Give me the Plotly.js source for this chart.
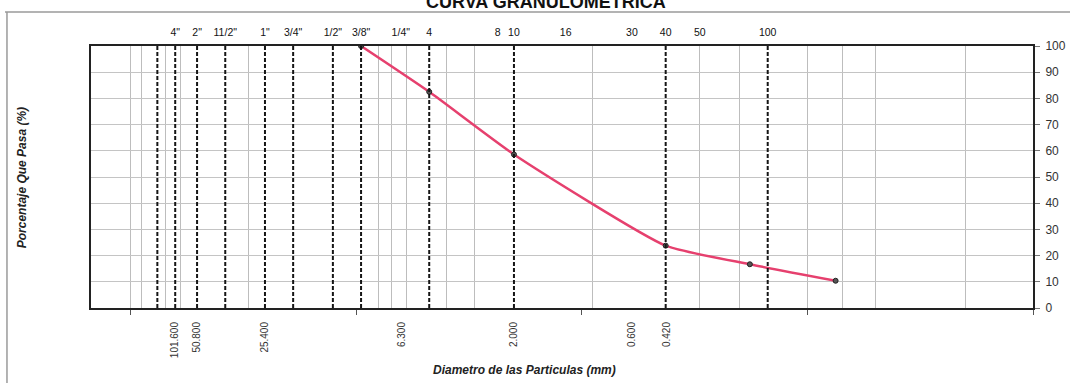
<!DOCTYPE html>
<html>
<head>
<meta charset="utf-8">
<script src="https://cdn.plot.ly/plotly-3.0.1.min.js"></script>
<style>html,body{margin:0;padding:0;background:#fff;}#chart{width:1074px;height:383px;}</style>
</head>
<body>
<div id="chart"></div>
<script>
// Particle-size data (mm) and percent passing
const particleSizes = [9.525, 4.75, 2.0, 0.425, 0.18, 0.075];
const percentPassing = [100, 82.5, 58.6, 23.8, 16.7, 10.4];

// Sieve openings drawn as dashed reference lines (mm)
const sieveLines = [76.2, 63.5, 50.8, 38.1, 25.4, 19.05, 12.7, 9.525, 4.75, 2.0, 0.425, 0.15];

// Top sieve labels
const topLabelPos = [63.5, 50.8, 38.1, 25.4, 19.05, 12.7, 9.525, 6.35, 4.75, 2.36, 2.0, 1.18, 0.6, 0.425, 0.3, 0.15];
const topLabelText = ['4"', '2"', '11/2"', '1"', '3/4"', '1/2"', '3/8"', '1/4"', '4', '8', '10', '16', '30', '40', '50', '100'];

// Bottom size labels
const bottomLabelPos = [63.5, 50.8, 25.4, 6.3, 2.0, 0.6, 0.42];
const bottomLabelText = ['101.600', '50.800', '25.400', '6.300', '2.000', '0.600', '0.420'];

// Log decade tick marks and thin vertical gridlines
const decadeTicks = [100, 10, 1, 0.1, 0.01];
const gridVals = [100, 90, 70, 60, 30, 8, 7, 6, 4, 3, 0.9, 0.3, 0.2, 0.1, 0.07, 0.05, 0.02];

const FONT = 'Liberation Sans, Arial, sans-serif';
const xRange = [Math.log10(150), -2];

const traces = [];
sieveLines.forEach(function (d) {
  traces.push({
    x: [d, d], y: [0, 100], xaxis: 'x2', yaxis: 'y',
    mode: 'lines', hoverinfo: 'skip', showlegend: false,
    line: {color: '#151515', width: 2, dash: '4px,2px'}
  });
});
traces.push({
  x: particleSizes, y: percentPassing, xaxis: 'x', yaxis: 'y',
  mode: 'lines+markers', showlegend: false,
  line: {color: '#e6406e', width: 2.5, shape: 'spline', smoothing: 0.5},
  marker: {size: 5, color: '#555', line: {color: '#222', width: 1}}
});

const layout = {
  width: 1074, height: 383,
  margin: {l: 91, r: 41, t: 46, b: 75},
  paper_bgcolor: '#fff', plot_bgcolor: '#fff',
  font: {family: FONT, color: '#222'},
  showlegend: false,
  xaxis: {
    type: 'log', range: xRange, domain: [0, 1], anchor: 'y',
    tickmode: 'array', tickvals: bottomLabelPos, ticktext: bottomLabelText,
    tickangle: -90, ticks: '', showgrid: false, zeroline: false,
    ticklabelstandoff: 8,
    tickfont: {family: FONT, size: 10, color: '#333'},
    showline: true, linecolor: '#222', linewidth: 2, mirror: true,
    minor: {tickmode: 'array', tickvals: decadeTicks, ticks: 'outside', ticklen: 5, tickcolor: '#555', tickwidth: 1, showgrid: false}
  },
  xaxis2: {
    type: 'log', range: xRange, overlaying: 'x', side: 'top', anchor: 'y',
    tickmode: 'array', tickvals: topLabelPos, ticktext: topLabelText,
    ticks: '', showgrid: false, zeroline: false, showline: false,
    ticklabelstandoff: 7,
    tickfont: {family: FONT, size: 10.5, color: '#111'},
    minor: {tickmode: 'array', tickvals: gridVals, ticks: '', showgrid: true, gridcolor: '#bdbdbd', gridwidth: 1}
  },
  yaxis: {
    range: [0, 100], side: 'right', anchor: 'x',
    tickmode: 'linear', tick0: 0, dtick: 10,
    ticks: 'outside', ticklen: 5, tickcolor: '#777',
    ticklabelstandoff: 3,
    showgrid: true, gridcolor: '#c4c4c4', gridwidth: 1, zeroline: false,
    showline: true, linecolor: '#222', linewidth: 2, mirror: true,
    tickfont: {family: FONT, size: 12, color: '#333'}
  },
  annotations: [
    {text: '<b>CURVA GRANULOMETRICA</b>', xref: 'paper', yref: 'paper', x: 0.483, y: 1.168,
     xanchor: 'center', yanchor: 'middle', showarrow: false,
     font: {family: FONT, size: 18, color: '#111'}},
    {text: '<b><i>Porcentaje Que Pasa (%)</i></b>', xref: 'paper', yref: 'paper', x: -0.073, y: 0.496,
     xanchor: 'center', yanchor: 'middle', textangle: -90, showarrow: false,
     font: {family: FONT, size: 12, color: '#222'}},
    {text: '<b><i>Diametro de las Particulas (mm)</i></b>', xref: 'paper', yref: 'paper', x: 0.4607, y: -0.237,
     xanchor: 'center', yanchor: 'middle', showarrow: false,
     font: {family: FONT, size: 12, color: '#222'}}
  ],
  shapes: [
    {type: 'line', xref: 'paper', yref: 'paper', x0: -0.0913, x1: 1.0393, y0: 1.1298, y1: 1.1298,
     line: {color: '#9a9a9a', width: 1.5}},
    {type: 'line', xref: 'paper', yref: 'paper', x0: -0.0892, x1: -0.0892, y0: 1.1298, y1: -0.3,
     line: {color: '#9a9a9a', width: 1.5}}
  ]
};

Plotly.newPlot('chart', traces, layout, {displayModeBar: false, staticPlot: true});
</script>
</body>
</html>
